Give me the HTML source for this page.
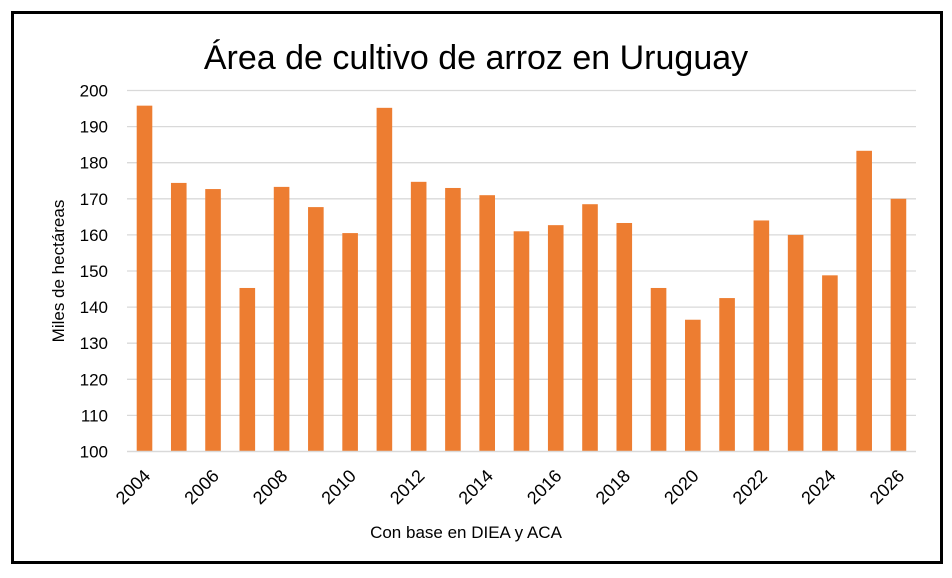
<!DOCTYPE html>
<html><head><meta charset="utf-8"><style>
html,body{margin:0;padding:0;background:#fff;}
svg{display:block;font-family:"Liberation Sans",sans-serif;}
</style></head><body>
<svg width="952" height="578" viewBox="0 0 952 578" xmlns="http://www.w3.org/2000/svg">
<rect x="0" y="0" width="952" height="578" fill="#fff"/>
<rect x="12.5" y="12.5" width="929" height="550" fill="none" stroke="#000" stroke-width="3"/>
<text x="476" y="69" text-anchor="middle" font-size="34" fill="#000">Área de cultivo de arroz en Uruguay</text>
<g stroke="#d9d9d9" stroke-width="1.3">
<line x1="127" x2="916" y1="415.4" y2="415.4"/>
<line x1="127" x2="916" y1="379.3" y2="379.3"/>
<line x1="127" x2="916" y1="343.2" y2="343.2"/>
<line x1="127" x2="916" y1="307.1" y2="307.1"/>
<line x1="127" x2="916" y1="271" y2="271"/>
<line x1="127" x2="916" y1="234.9" y2="234.9"/>
<line x1="127" x2="916" y1="198.8" y2="198.8"/>
<line x1="127" x2="916" y1="162.7" y2="162.7"/>
<line x1="127" x2="916" y1="126.6" y2="126.6"/>
<line x1="127" x2="916" y1="90.5" y2="90.5"/>
</g>
<g font-size="17" fill="#000" text-anchor="end">
<text x="108" y="457.5">100</text>
<text x="108" y="421.4">110</text>
<text x="108" y="385.3">120</text>
<text x="108" y="349.2">130</text>
<text x="108" y="313.1">140</text>
<text x="108" y="277">150</text>
<text x="108" y="240.9">160</text>
<text x="108" y="204.8">170</text>
<text x="108" y="168.7">180</text>
<text x="108" y="132.6">190</text>
<text x="108" y="96.5">200</text>
</g>
<g fill="#ed7d31">
<rect x="136.7" y="105.66" width="15.6" height="345.84"/>
<rect x="170.97" y="182.92" width="15.6" height="268.58"/>
<rect x="205.24" y="189.05" width="15.6" height="262.45"/>
<rect x="239.51" y="287.97" width="15.6" height="163.53"/>
<rect x="273.78" y="186.89" width="15.6" height="264.61"/>
<rect x="308.05" y="207.1" width="15.6" height="244.4"/>
<rect x="342.32" y="233.09" width="15.6" height="218.41"/>
<rect x="376.59" y="107.83" width="15.6" height="343.67"/>
<rect x="410.86" y="181.83" width="15.6" height="269.67"/>
<rect x="445.13" y="187.97" width="15.6" height="263.53"/>
<rect x="479.4" y="195.19" width="15.6" height="256.31"/>
<rect x="513.67" y="231.29" width="15.6" height="220.21"/>
<rect x="547.94" y="225.15" width="15.6" height="226.35"/>
<rect x="582.21" y="204.21" width="15.6" height="247.29"/>
<rect x="616.48" y="222.99" width="15.6" height="228.51"/>
<rect x="650.75" y="287.97" width="15.6" height="163.53"/>
<rect x="685.02" y="319.73" width="15.6" height="131.77"/>
<rect x="719.29" y="298.07" width="15.6" height="153.43"/>
<rect x="753.56" y="220.46" width="15.6" height="231.04"/>
<rect x="787.83" y="234.9" width="15.6" height="216.6"/>
<rect x="822.1" y="275.33" width="15.6" height="176.17"/>
<rect x="856.37" y="150.79" width="15.6" height="300.71"/>
<rect x="890.64" y="198.8" width="15.6" height="252.7"/>
</g>
<g font-size="18" fill="#000" text-anchor="end">
<text x="151.5" y="477" transform="rotate(-45 151.5 477)">2004</text>
<text x="220.04" y="477" transform="rotate(-45 220.04 477)">2006</text>
<text x="288.58" y="477" transform="rotate(-45 288.58 477)">2008</text>
<text x="357.12" y="477" transform="rotate(-45 357.12 477)">2010</text>
<text x="425.66" y="477" transform="rotate(-45 425.66 477)">2012</text>
<text x="494.2" y="477" transform="rotate(-45 494.2 477)">2014</text>
<text x="562.74" y="477" transform="rotate(-45 562.74 477)">2016</text>
<text x="631.28" y="477" transform="rotate(-45 631.28 477)">2018</text>
<text x="699.82" y="477" transform="rotate(-45 699.82 477)">2020</text>
<text x="768.36" y="477" transform="rotate(-45 768.36 477)">2022</text>
<text x="836.9" y="477" transform="rotate(-45 836.9 477)">2024</text>
<text x="905.44" y="477" transform="rotate(-45 905.44 477)">2026</text>
</g>
<line x1="127" y1="451.5" x2="916" y2="451.5" stroke="#d9d9d9" stroke-width="1.5"/>
<text x="64" y="271" font-size="17" text-anchor="middle" transform="rotate(-90 64 271)">Miles de hectáreas</text>
<text x="466" y="538" font-size="17" text-anchor="middle">Con base en DIEA y ACA</text>
</svg>
</body></html>
